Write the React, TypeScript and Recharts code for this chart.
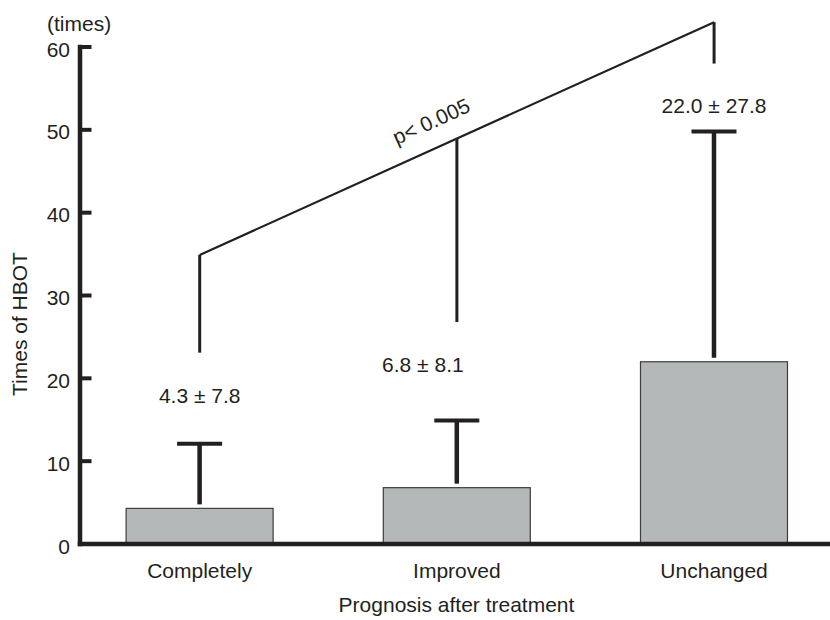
import { Bar, ComposedChart, ReferenceLine, XAxis, YAxis } from 'recharts'

const categories = ['Completely', 'Improved', 'Unchanged']
const means = [4.3, 6.8, 22.0]
const sds = [7.8, 8.1, 27.8]
// significance bracket legs, in y-axis units (foot, top)
const bracketLow = [23.1, 26.8, 58.0]
const bracketHigh = [34.9, 48.95, 63.0]
const pText = 'p< 0.005'
const yTicks = [0, 10, 20, 30, 40, 50, 60]

const data = categories.map((name, i) => ({ idx: i, name, mean: means[i], sd: sds[i] }))

const INK = '#231f20'
const FONT = '"Liberation Sans", Arial, Helvetica, sans-serif'
const FS = 21
// the middle "mean ± sd" label sits a little left of its bracket leg in the original
const labelDx = [0, -34, 0]

function BarWithError(props: any) {
  const { x, y, width, height, payload } = props
  const cx = x + width / 2
  const perUnit = payload.mean ? height / payload.mean : 0
  const top = y - payload.sd * perUnit
  return (
    <g>
      <rect x={x} y={y} width={width} height={height} fill="#b5b8b8" stroke="#3d3d3d" strokeWidth={1.2} />
      <line x1={cx} x2={cx} y1={y - 4} y2={top} stroke={INK} strokeWidth={4.5} />
      <line x1={cx - 22.5} x2={cx + 22.5} y1={top} y2={top} stroke={INK} strokeWidth={4} />
    </g>
  )
}

function YTick({ x, y, payload }: any) {
  return (
    <g>
      <line x1={x} x2={x + 11.5} y1={y} y2={y} stroke={INK} strokeWidth={4} />
      <text x={x - 10} y={y + 9.5} textAnchor="end" fill={INK} fontSize={FS} fontFamily={FONT}>
        {payload.value}
      </text>
    </g>
  )
}

function XTick({ x, y, payload }: any) {
  return (
    <text x={x} y={y + 34} textAnchor="middle" fill={INK} fontSize={FS} fontFamily={FONT}>
      {categories[payload.value]}
    </text>
  )
}

function PLabel({ viewBox }: any) {
  if (!viewBox) return null
  const { x, y, width, height } = viewBox
  const t = 0.45
  const px = x + t * width
  const py = y + height - t * height - 29
  const angle = (-Math.atan2(height, width) * 180) / Math.PI
  return (
    <text
      transform={`translate(${px},${py}) rotate(${angle})`}
      textAnchor="middle"
      dominantBaseline="central"
      fill={INK}
      fontSize={FS}
      fontFamily={FONT}
    >
      {pText}
    </text>
  )
}

export default function App() {
  return (
    <div style={{ position: 'absolute', left: 0, top: 0, width: 830, height: 620, background: '#fff', fontFamily: FONT }}>
      <ComposedChart width={830} height={620} data={data} margin={{ top: 47, right: 0, bottom: 0, left: 0 }}>
        <XAxis
          dataKey="idx"
          type="number"
          domain={[-0.4654, 2.4507]}
          ticks={[0, 1, 2]}
          interval={0}
          height={76}
          tickSize={0}
          tickMargin={0}
          tickLine={false}
          tick={<XTick />}
          axisLine={{ stroke: INK, strokeWidth: 4.5, strokeLinecap: 'square' }}
          label={{
            content: () => (
              <text x={456.5} y={612} textAnchor="middle" fill={INK} fontSize={FS} fontFamily={FONT}>
                Prognosis after treatment
              </text>
            ),
          }}
        />
        <YAxis
          type="number"
          domain={[0, 60]}
          ticks={yTicks}
          interval={0}
          width={80}
          tickSize={0}
          tickMargin={0}
          tickLine={false}
          tick={<YTick />}
          axisLine={{ stroke: INK, strokeWidth: 4.5, strokeLinecap: 'square' }}
          label={{
            content: () => (
              <g>
                <text x={47} y={30.5} fill={INK} fontSize={FS} fontFamily={FONT}>
                  (times)
                </text>
                <text
                  transform="translate(27,324) rotate(-90)"
                  textAnchor="middle"
                  fill={INK}
                  fontSize={FS}
                  fontFamily={FONT}
                >
                  Times of HBOT
                </text>
              </g>
            ),
          }}
        />
        <Bar dataKey="mean" barSize={147} shape={<BarWithError />} isAnimationActive={false} />
        {categories.map((c, i) => (
          <ReferenceLine
            key={c}
            segment={[
              { x: i, y: bracketLow[i] },
              { x: i, y: bracketHigh[i] },
            ]}
            stroke={INK}
            strokeWidth={3}
            ifOverflow="visible"
            label={{
              value: `${means[i].toFixed(1)} \u00b1 ${sds[i].toFixed(1)}`,
              position: 'bottom',
              offset: 35,
              dx: labelDx[i],
              fill: INK,
              fontSize: FS,
              fontFamily: FONT,
            }}
          />
        ))}
        <ReferenceLine
          segment={[
            { x: 0, y: bracketHigh[0] },
            { x: 2, y: bracketHigh[2] },
          ]}
          stroke={INK}
          strokeWidth={2.2}
          ifOverflow="visible"
          label={<PLabel />}
        />
      </ComposedChart>
    </div>
  )
}
